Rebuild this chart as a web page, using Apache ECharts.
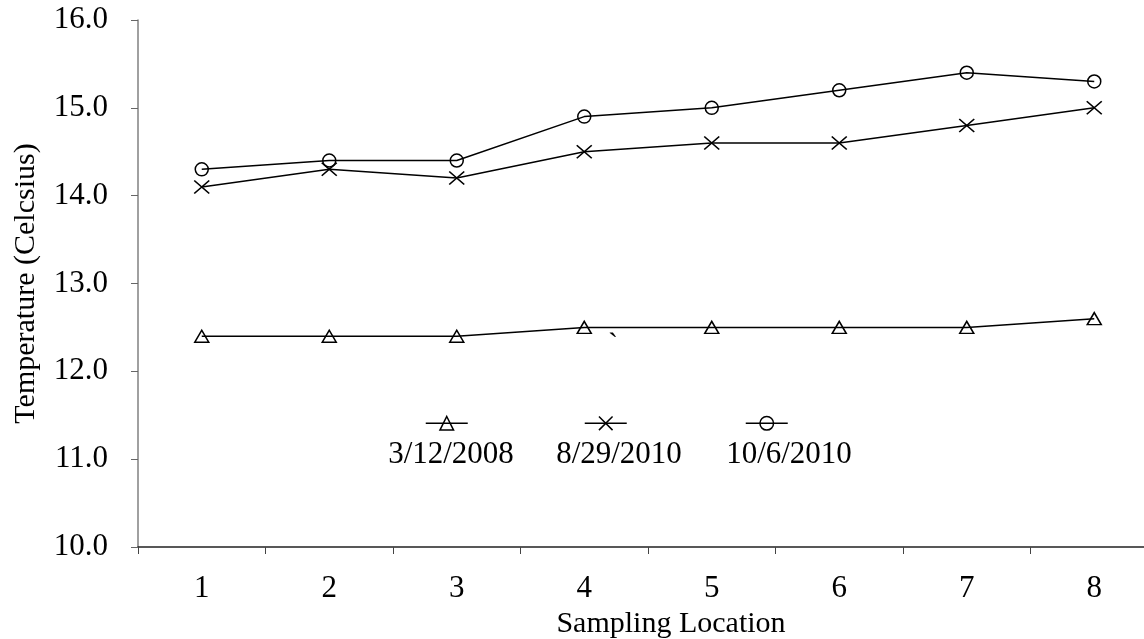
<!DOCTYPE html>
<html>
<head>
<meta charset="utf-8">
<script src="https://cdn.jsdelivr.net/npm/echarts@6/dist/echarts.min.js"></script>
<style>
    html, body { margin: 0; padding: 0; background: #fff; }
    #chart { width: 1144px; height: 639px; }
</style>
</head>
<body>
<div id="chart"></div>
<script>
var locations = ['1', '2', '3', '4', '5', '6', '7', '8'];
var seriesNames = ['3/12/2008', '8/29/2010', '10/6/2010'];
var temp2008 = [12.4, 12.4, 12.4, 12.5, 12.5, 12.5, 12.5, 12.6];
var temp2010Aug = [14.1, 14.3, 14.2, 14.5, 14.6, 14.6, 14.8, 15.0];
var temp2010Oct = [14.3, 14.4, 14.4, 14.9, 15.0, 15.2, 15.4, 15.3];
var yTicks = { min: 10, max: 16, interval: 1 };

var font = 'Liberation Serif';
var xMark = 'path://M0,0L14,12M14,0L0,12';
var markStyle = { color: 'none', borderColor: '#000', borderWidth: 1.5 };

function lineSeries(name, data, symbol, size) {
    return {
        name: name,
        type: 'line',
        data: data,
        symbol: symbol,
        symbolSize: size,
        showAllSymbol: true,
        lineStyle: { color: '#000', width: 1.5 },
        itemStyle: markStyle,
        emphasis: { disabled: true }
    };
}

// 图例: 只画图标, 文字另外放在图标下面
function legendAt(name, left) {
    return {
        data: [name],
        left: left,
        top: 414,
        padding: 0,
        itemWidth: 42,
        itemHeight: 17,
        selectedMode: false,
        itemStyle: markStyle,
        lineStyle: { color: '#000', width: 1.5 },
        formatter: function () { return ''; },
        textStyle: { fontSize: 1, color: 'transparent' }
    };
}

function legendText(name, x) {
    return {
        type: 'text', x: x, y: 455,
        style: { text: name, font: '31px "Liberation Serif"', fill: '#000', align: 'center', verticalAlign: 'middle' }
    };
}

var chart = echarts.init(document.getElementById('chart'));
var option = {
    animation: false,
    backgroundColor: '#fff',
    grid: { left: 138, top: 20, width: 1020, height: 527, outerBoundsMode: 'none', containLabel: false },
    legend: [legendAt(seriesNames[0], 425), legendAt(seriesNames[1], 584), legendAt(seriesNames[2], 745)],
    xAxis: {
        type: 'category',
        data: locations,
        boundaryGap: true,
        name: 'Sampling Location',
        nameLocation: 'middle',
        nameGap: 61,
        nameTextStyle: { fontFamily: font, fontSize: 30, color: '#000', padding: [0, 0, 0, 46] },
        axisLine: { show: true, lineStyle: { color: '#222', width: 1.5 } },
        axisTick: { show: true, alignWithLabel: false, length: 7, lineStyle: { color: '#444' } },
        axisLabel: { fontFamily: font, fontSize: 31, color: '#000', margin: 26 },
        splitLine: { show: false }
    },
    yAxis: {
        type: 'value',
        min: yTicks.min,
        max: yTicks.max,
        interval: yTicks.interval,
        name: 'Temperature (Celcsius)',
        nameLocation: 'middle',
        nameGap: 97,
        nameTextStyle: { fontFamily: font, fontSize: 30, color: '#000' },
        axisLine: { show: true, lineStyle: { color: '#808080', width: 1.5 } },
        axisTick: { show: true, inside: false, length: 7, lineStyle: { color: '#666' } },
        axisLabel: {
            fontFamily: font, fontSize: 31, color: '#000', margin: 30,
            formatter: function (v) { return v.toFixed(1); }
        },
        splitLine: { show: false }
    },
    series: [
        lineSeries(seriesNames[0], temp2008, 'triangle', [14, 12]),
        lineSeries(seriesNames[1], temp2010Aug, xMark, [15, 13]),
        lineSeries(seriesNames[2], temp2010Oct, 'circle', 13)
    ],
    graphic: [
        legendText(seriesNames[0], 451),
        legendText(seriesNames[1], 619),
        legendText(seriesNames[2], 789),
        { type: 'text', x: 613, y: 345, style: { text: '`', font: '30px "Liberation Serif"', fill: '#000', align: 'center', verticalAlign: 'middle' } }
    ]
};
chart.setOption(option);
</script>
</body>
</html>
